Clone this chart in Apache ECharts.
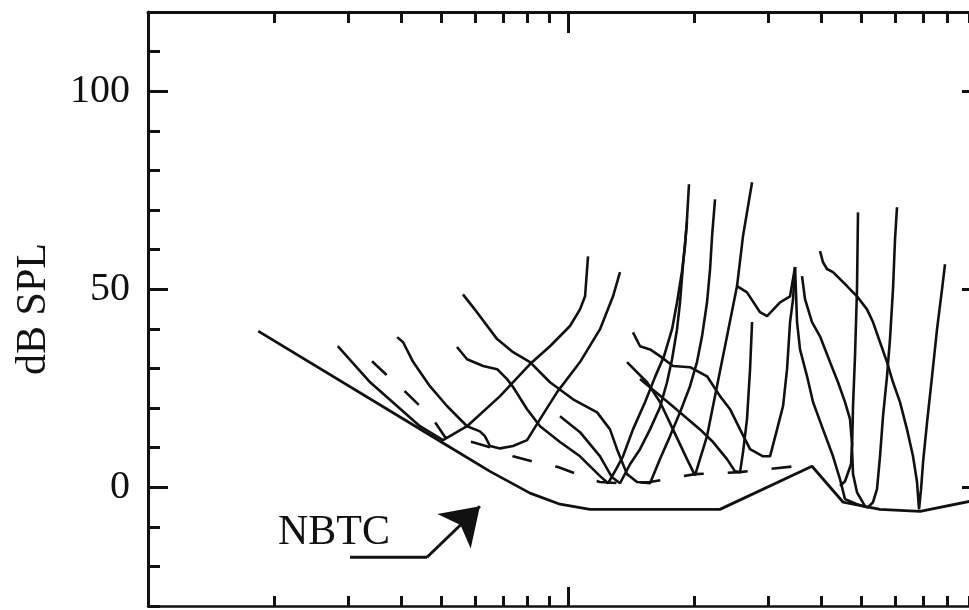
<!DOCTYPE html>
<html>
<head>
<meta charset="utf-8">
<script src="https://cdn.jsdelivr.net/npm/echarts@6/dist/echarts.min.js"></script>
<style>
  html, body { margin: 0; padding: 0; background: #fff; }
  #chart { width: 969px; height: 610px; }
</style>
</head>
<body>
<div id="chart"></div>
<script>
// Frequencies in kHz, levels in dB SPL.
const nbtc = [[0.183,39.4],[0.496,11.6],[0.652,4.0],[0.812,-1.5],[0.957,-4.3],[1.128,-5.6],
  [2.30,-5.6],[3.81,5.3],[4.52,-3.8],[5.53,-5.6],[6.89,-6.1],[9.31,-3.3]];

const behavioural = [[0.3415,31.8],[0.373,28.0],[0.409,24.2],[0.444,20.5],[0.4825,16.4],[0.51,12.6],
  [0.591,11.4],[0.652,10.1],[0.74,7.8],[0.835,6.3],[0.947,5.1],[1.05,3.3],[1.19,1.3],[1.345,1.0],
  [1.567,1.3],[2.007,3.3],[2.567,3.8],[3.47,5.3]];

const tc1 = [[0.283,35.6],[0.338,26.5],[0.444,15.4],[0.504,11.9],[0.575,15.4],[0.689,23.0],[0.812,31.1],
  [0.906,35.6],[1.011,40.7],[1.068,44.9],[1.098,48.2],[1.116,58.3]];
const tc2 = [[0.392,37.9],[0.405,36.6],[0.428,31.6],[0.469,25.5],[0.515,20.5],[0.575,15.4],[0.617,14.1],
  [0.634,12.9],[0.652,10.4],[0.689,9.8],[0.740,10.4],[0.799,11.9],[0.858,17.2],[0.942,24.0],[1.068,31.6],
  [1.192,39.9],[1.280,48.2],[1.330,54.3]];
const tc3 = [[0.562,48.7],[0.607,44.2],[0.678,37.4],[0.740,34.1],[0.812,31.6],[0.906,26.5],[1.028,22.2],
  [1.173,18.9],[1.259,14.6],[1.308,9.6],[1.382,3.3],[1.460,1.3],[1.568,1.0],[1.656,7.1],[1.750,12.9],
  [1.848,18.9],[1.952,25.5],[2.028,31.6],[2.085,38.1],[2.143,46.7],[2.179,55.1],[2.203,63.4],[2.239,72.7]];
const tc4 = [[0.544,35.4],[0.575,32.3],[0.628,30.6],[0.678,29.8],[0.716,27.3],[0.740,25.3],[0.799,19.7],
  [0.858,15.4],[0.957,11.4],[1.068,7.8],[1.192,2.8],[1.246,1.0],[1.301,4.5],[1.352,7.8],[1.428,14.6],
  [1.526,21.5],[1.611,27.8],[1.693,33.1],[1.769,39.9],[1.818,46.7],[1.868,54.5],[1.899,60.9],[1.920,67.7],
  [1.941,76.5]];
const tc5 = [[0.957,17.9],[1.068,13.9],[1.192,7.8],[1.273,2.5],[1.330,1.0],[1.405,5.8],[1.484,9.6],
  [1.568,14.6],[1.656,20.2],[1.721,26.5],[1.769,32.3],[1.818,39.9],[1.848,46.7],[1.879,56.3],[1.920,66.9]];
const tc6 = [[1.428,39.1],[1.484,35.6],[1.568,34.8],[1.656,33.1],[1.778,30.6],[1.952,30.3],[2.143,28.0],
  [2.301,23.0],[2.431,19.7],[2.568,14.6],[2.713,9.6],[2.913,7.8],[3.027,7.8],[3.146,14.6],[3.251,20.5],
  [3.323,29.8],[3.378,41.7],[3.434,47.5],[3.472,55.6]];
const tc7 = [[1.382,31.6],[1.542,26.5],[1.656,21.5],[1.778,14.6],[1.920,7.1],[2.006,3.0],[2.143,12.9],
  [2.263,25.5],[2.391,38.1],[2.526,50.8],[2.610,63.4],[2.743,77.0]];
const tc8 = [[1.484,27.3],[1.750,21.0],[2.062,14.6],[2.215,11.4],[2.391,7.1],[2.498,4.0],[2.568,3.8],
  [2.610,8.8],[2.668,17.2],[2.713,29.8],[2.743,41.7]];
const tc9 = [[2.526,50.8],[2.668,49.2],[2.865,44.2],[2.978,43.2],[3.198,46.7],[3.378,48.2],[3.472,55.6],
  [3.510,41.7],[3.568,34.8],[3.708,28.0],[3.831,21.5],[4.047,14.6],[4.275,7.8],[4.443,2.0],[4.566,-3.0],
  [4.876,-4.3],[5.179,-5.1],[5.323,-3.8],[5.441,-0.5],[5.532,7.8],[5.623,17.9],[5.748,28.0],[5.843,37.4],
  [5.940,50.0],[6.006,62.6],[6.072,70.7]];
const tc10 = [[3.607,53.3],[3.667,47.5],[3.810,41.7],[3.981,38.1],[4.205,31.6],[4.394,26.5],[4.566,21.5],
  [4.693,17.2],[4.745,10.9],[4.719,5.8],[4.566,1.5],[4.443,0.3]];
const tc11 = [[5.094,-4.8],[4.876,-1.3],[4.771,3.3],[4.745,9.6],[4.771,20.5],[4.823,33.1],[4.876,50.0],
  [4.903,69.4]];
const tc12 = [[3.981,59.6],[4.047,56.8],[4.137,55.1],[4.275,54.3],[4.616,50.8],[4.876,48.2],[5.151,44.9],
  [5.323,41.7],[5.532,36.6],[5.748,31.6],[5.940,26.5],[6.172,21.5],[6.414,14.6],[6.629,7.8],[6.776,1.3],
  [6.851,-5.6],[6.927,-0.5],[7.004,6.3],[7.159,16.4],[7.358,28.0],[7.562,39.9],[7.772,50.0],[7.900,56.3]];

const tuningCurves = [tc1, tc2, tc3, tc4, tc5, tc6, tc7, tc8, tc9, tc10, tc11, tc12];

// Pointer from the NBTC label to the curve
const pointerLeg = [[0.3027,-17.7],[0.4616,-17.7]];
const pointerHead = [[0.4616,-17.7],[0.617,-4.8]];

// Axis ticks and visible frequency span (kHz)
const freqMin = 0.1;
const freqMax = 9.01;
const minorFreqs = [0.2,0.3,0.4,0.5,0.6,0.7,0.8,0.9,2,3,4,5,6,7,8,9];
const majorFreqs = [1];
const levelTicks = [0, 50, 100];

const log = v => Math.log10(v);
const toXY = pts => pts.map(([f, db]) => [log(f), db]);

const INK = '#111';
const SERIF = '"Liberation Serif", "DejaVu Serif", serif';

function xAxisDef(position, values, length, showLine, lineWidth) {
  return {
    type: 'value', position, min: log(freqMin), max: log(freqMax),
    axisLine: { show: showLine, onZero: false, lineStyle: { color: INK, width: lineWidth } },
    axisTick: { show: true, inside: true, length, customValues: values.map(log),
      lineStyle: { color: INK, width: 3 } },
    axisLabel: { show: false },
    splitLine: { show: false }
  };
}

function yAxisDef(position, length, showLine, custom, withLabels) {
  const ax = {
    type: 'value', position, min: -30, max: 120, interval: 10,
    axisLine: { show: showLine, onZero: false, lineStyle: { color: INK, width: 3 } },
    axisTick: { show: length > 0, inside: true, length, lineStyle: { color: INK, width: 3 } },
    axisLabel: { show: false },
    splitLine: { show: false }
  };
  if (custom) ax.axisTick.customValues = custom;
  if (withLabels) {
    ax.axisLabel = { show: true, customValues: custom, margin: 18, color: INK,
      fontFamily: SERIF, fontSize: 40 };
    ax.name = 'dB SPL';
    ax.nameLocation = 'middle';
    ax.nameRotate = 90;
    ax.nameGap = 93;
    ax.nameTextStyle = { color: INK, fontFamily: SERIF, fontSize: 42 };
  }
  return ax;
}

const curveStyle = { color: INK, width: 2.6 };

const series = [
  {
    name: 'NBTC', type: 'line', data: toXY(nbtc), showSymbol: false, symbol: 'none',
    lineStyle: { color: INK, width: 2.8 }, animation: false, z: 3
  },
  {
    name: 'behavioural', type: 'line', data: toXY(behavioural), showSymbol: false, symbol: 'none',
    lineStyle: { color: INK, width: 2.6, type: [20, 24] }, animation: false, z: 3
  }
];
tuningCurves.forEach((c, i) => series.push({
  name: 'tc' + (i + 1), type: 'line', data: toXY(c), showSymbol: false, symbol: 'none',
  lineStyle: curveStyle, animation: false, z: 2
}));
series.push({
  name: 'pointer', type: 'line', data: toXY(pointerLeg), showSymbol: false, symbol: 'none',
  lineStyle: { color: INK, width: 3 }, animation: false,
  markLine: {
    silent: true, animation: false,
    symbol: ['none', 'arrow'], symbolSize: 36,
    label: { show: false },
    lineStyle: { color: INK, width: 3, type: 'solid' },
    data: [[{ coord: toXY(pointerHead)[0] }, { coord: toXY(pointerHead)[1] }]]
  }
});

const chart = echarts.init(document.getElementById('chart'), null, { renderer: 'canvas' });
chart.setOption({
  backgroundColor: '#fff',
  animation: false,
  // the frame runs off the right edge; the plot is drawn up to the window edge
  grid: { left: 148, top: 12, right: 0, height: 594, containLabel: false },
  xAxis: [
    xAxisDef('bottom', minorFreqs, 10, true, 2.5),
    xAxisDef('bottom', majorFreqs, 19, false, 2.5),
    xAxisDef('top', minorFreqs, 11, true, 3),
    xAxisDef('top', majorFreqs, 21, false, 3)
  ],
  yAxis: [
    yAxisDef('left', 12, true, null, false),
    yAxisDef('left', 20, false, levelTicks, true),
    yAxisDef('right', 0, false, null, false),
    yAxisDef('right', 7, false, levelTicks, false)
  ],
  graphic: [{
    type: 'text', x: 278, y: 533,
    style: { text: 'NBTC', font: '42px ' + SERIF, fill: INK, align: 'left', verticalAlign: 'middle' }
  }],
  series
});
</script>
</body>
</html>
